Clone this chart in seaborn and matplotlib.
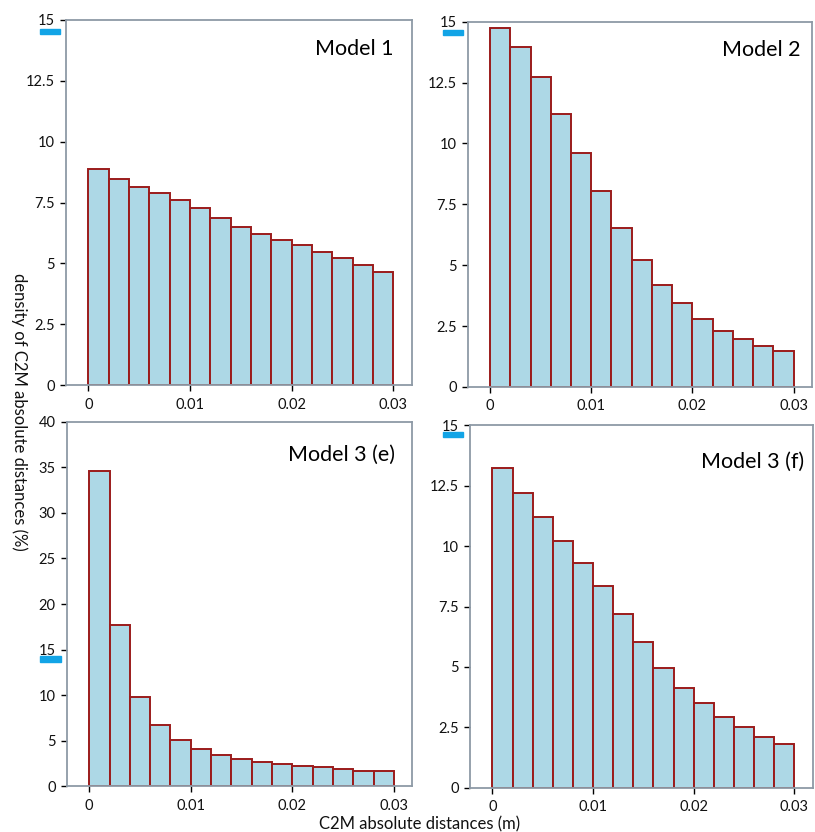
import numpy as np
import pandas as pd
import matplotlib
matplotlib.use("Agg")
import matplotlib.pyplot as plt
import seaborn as sns
from matplotlib.patches import Rectangle
from matplotlib.ticker import FuncFormatter

# --- dados (densidade em % por classe de 0.002 m) ---
bin_edges = [0.0, 0.002, 0.004, 0.006, 0.008, 0.010, 0.012, 0.014,
             0.016, 0.018, 0.020, 0.022, 0.024, 0.026, 0.028, 0.030]

model1 = [8.87, 8.45, 8.13, 7.90, 7.61, 7.28, 6.87, 6.50, 6.23, 5.95, 5.76, 5.48, 5.24, 4.92, 4.66]
model2 = [14.73, 13.94, 12.73, 11.22, 9.62, 8.04, 6.54, 5.23, 4.20, 3.43, 2.77, 2.31, 1.98, 1.68, 1.47]
model3e = [34.6, 17.65, 9.85, 6.74, 5.13, 4.07, 3.48, 3.00, 2.64, 2.45, 2.27, 2.09, 1.90, 1.72, 1.65]
model3f = [13.24, 12.20, 11.21, 10.22, 9.32, 8.35, 7.18, 6.03, 4.95, 4.15, 3.52, 2.92, 2.50, 2.12, 1.82]

titles = ["Model 1", "Model 2", "Model 3 (e)", "Model 3 (f)"]
y_max = [15, 15, 40, 15]
y_step = [2.5, 2.5, 5, 2.5]
x_ticks = [0, 0.01, 0.02, 0.03]

sns.set_theme(style="white")
plt.rcParams['font.family'] = ['Lato', 'DejaVu Sans']

FILL = "#add8e6"
EDGE = "#9b1b1b"
SPINE = "#8e9aa6"

fig = plt.figure(figsize=(8.15, 8.32), dpi=100)

# posicoes dos paineis (fracao da figura)
posicoes = [
    [0.081, 0.537, 0.424, 0.439],
    [0.574, 0.535, 0.422, 0.439],
    [0.082, 0.055, 0.424, 0.438],
    [0.577, 0.053, 0.420, 0.436],
]
pos_titulo = [(0.948, 0.92), (0.968, 0.923), (0.95, 0.909), (0.974, 0.90)]

centros = [(bin_edges[i] + bin_edges[i + 1]) / 2 for i in range(len(bin_edges) - 1)]

fmt = FuncFormatter(lambda v, p: f"{v:g}")

for i, valores in enumerate([model1, model2, model3e, model3f]):
    ax = fig.add_axes(posicoes[i])
    df = pd.DataFrame({"dist": centros, "dens": valores})
    sns.histplot(data=df, x="dist", weights="dens", bins=bin_edges, ax=ax,
                 color=FILL, edgecolor=EDGE, linewidth=1.4, alpha=1)

    ax.set_xlim(-0.0022, 0.0318)
    ax.set_ylim(0, y_max[i])
    ax.set_yticks(np.arange(0, y_max[i] + 0.01, y_step[i]))
    ax.set_xticks(x_ticks)
    ax.xaxis.set_major_formatter(fmt)
    ax.yaxis.set_major_formatter(fmt)
    ax.set_xlabel("")
    ax.set_ylabel("")
    ax.grid(False)

    for s in ax.spines.values():
        s.set_color(SPINE)
        s.set_linewidth(1.3)
        s.set_visible(True)

    ax.tick_params(axis="both", direction="out", length=4, width=1,
                   color="black", labelsize=10.5, labelcolor="#111111",
                   left=True, bottom=True, pad=4)
    ax.tick_params(axis="x", pad=5)

    tx, ty = pos_titulo[i]
    ax.text(tx, ty, titles[i], transform=ax.transAxes, ha="right", va="center",
            fontsize=15.5, color="black")

# marcas azuis sob o "15"
marcas_px = [(40, 29, 20, 5), (443, 30, 20, 5), (40, 656, 21, 6), (443, 432, 20, 5)]
W, H = 815, 832
for (x, y, w, h) in marcas_px:
    fig.patches.append(Rectangle((x / W, 1 - (y + h) / H), w / W, h / H,
                                 transform=fig.transFigure, color="#12a4e6",
                                 zorder=10))

fig.text(0.024, 0.505, "density of C2M absolute distances (%)", rotation=-90,
         ha="center", va="center", fontsize=12, color="#111111")
fig.text(0.515, 0.009, "C2M absolute distances (m)", ha="center", va="center",
         fontsize=12, color="#111111")

fig.savefig("out.png", dpi=100, facecolor="white")
plt.close(fig)
